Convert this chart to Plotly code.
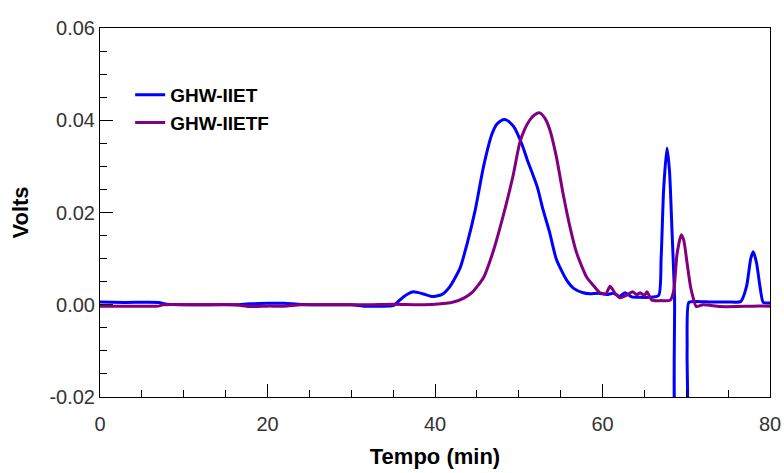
import plotly.graph_objects as go

# GHW-IIET (blue)
ghw_iiet_x = [0, 3, 7, 8, 12, 16, 18, 20, 22, 23.6,
              26, 30, 31.6, 33, 35.0, 35.5, 36.3, 37.4, 38.5, 39.6,
              40.8, 41.8, 43.0, 43.8, 44.8, 45.8, 46.8, 47.4, 48.1, 48.6,
              49.4, 50.4, 51.0, 52.2, 52.9, 53.7, 54.5, 55.7, 56.6, 57.7,
              58.5, 59.5, 60.5, 61.3, 62.0, 62.7, 63.5, 64.5, 65.5, 66.7,
              67.0, 67.3, 67.7, 68.0, 68.3, 68.6, 68.95, 69.9, 70.1, 70.3,
              71.0, 73.0, 75.0, 76.5, 77.2, 77.7, 78.0, 78.4, 78.8, 79.2,
              80.0]
ghw_iiet_y = [0.0006, 0.0005, 0.0005, 0.0001, 0.0000, 0.0000, 0.0002, 0.0003, 0.0003, 0.0001,
              0.0000, 0.0000, -0.0003, -0.0003, -0.0002, 0.0005, 0.0018, 0.0028, 0.0024, 0.0018,
              0.0022, 0.0040, 0.0080, 0.0130, 0.0205, 0.0300, 0.0370, 0.0392, 0.0401, 0.0400,
              0.0386, 0.0347, 0.0315, 0.0256, 0.0206, 0.0156, 0.0098, 0.0054, 0.0035, 0.0026,
              0.0024, 0.0025, 0.0022, 0.0025, 0.0018, 0.0026, 0.0017, 0.0016, 0.0016, 0.0020,
              0.0100, 0.0250, 0.0340, 0.0290, 0.0160, 0.0020, -0.0300, -0.0300, -0.0100, 0.0005,
              0.0007, 0.0006, 0.0006, 0.0007, 0.0040, 0.0100, 0.0115, 0.0090, 0.0040, 0.0005,
              0.0004]

# GHW-IIETF (purple)
ghw_iietf_x = [0, 3, 7, 7.5, 12, 16, 18, 20, 22, 24,
               28, 32, 35, 38, 40, 42.2, 43.5, 44.5, 45.8, 46.9,
               48.1, 49.3, 50.1, 50.7, 51.3, 51.9, 52.5, 53.1, 53.7, 54.5,
               55.3, 56.1, 56.9, 58.1, 59.0, 59.7, 60.4, 60.9, 61.5, 62.1,
               62.8, 63.6, 64.1, 64.5, 65.0, 65.3, 65.9, 67.0, 68.1, 68.5,
               68.9, 69.4, 69.7, 70.1, 70.5, 70.8, 71.2, 72.0, 74.0, 76.0,
               78.0, 80.0]
ghw_iietf_y = [-0.0003, -0.0003, -0.0003, 0.0000, 0.0000, 0.0000, -0.0004, -0.0003, -0.0003, 0.0000,
               0.0000, 0.0000, 0.0001, 0.0000, 0.0001, 0.0006, 0.0015, 0.0028, 0.0059, 0.0113,
               0.0190, 0.0278, 0.0350, 0.0380, 0.0400, 0.0412, 0.0416, 0.0405, 0.0380, 0.0320,
               0.0240, 0.0170, 0.0113, 0.0060, 0.0040, 0.0026, 0.0024, 0.0040, 0.0025, 0.0015,
               0.0020, 0.0028, 0.0022, 0.0026, 0.0020, 0.0028, 0.0010, 0.0009, 0.0010, 0.0030,
               0.0110, 0.0152, 0.0140, 0.0090, 0.0040, 0.0017, -0.0004, 0.0000, -0.0004, -0.0004,
               -0.0003, -0.0003]

x_ticks = [0, 20, 40, 60, 80]
y_ticks = [-0.02, 0.00, 0.02, 0.04, 0.06]
y_labels = ["-0.02", "0.00", "0.02", "0.04", "0.06"]

fig = go.Figure()
fig.add_trace(go.Scatter(x=ghw_iiet_x, y=ghw_iiet_y, mode="lines", name="<b>GHW-IIET</b>",
                         line=dict(color="#0000FF", width=3, shape="spline", smoothing=0.6)))
fig.add_trace(go.Scatter(x=ghw_iietf_x, y=ghw_iietf_y, mode="lines", name="<b>GHW-IIETF</b>",
                         line=dict(color="#800080", width=3, shape="spline", smoothing=0.6)))

tick_font = dict(family="Liberation Sans, Arial, sans-serif", size=20, color="#333333")
title_font = dict(family="Liberation Sans, Arial, sans-serif", size=22, color="#000000")

fig.update_layout(
    width=784, height=473,
    margin=dict(l=100, r=14, t=28, b=76),
    paper_bgcolor="white", plot_bgcolor="white",
    showlegend=True,
    legend=dict(x=0.045, y=0.87, xanchor="left", yanchor="top",
                bgcolor="rgba(0,0,0,0)", tracegroupgap=0,
                font=dict(family="Liberation Sans, Arial, sans-serif", size=19, color="#000000"),
                itemwidth=30),
    xaxis=dict(range=[0, 80], tickvals=x_ticks, ticktext=[str(v) for v in x_ticks],
               automargin=False,
               ticks="inside", ticklen=13, tickwidth=1, tickcolor="black",
               ticklabelstandoff=9,
               minor=dict(dtick=5, tick0=0, ticks="inside", ticklen=7, tickcolor="black", showgrid=False),
               showline=True, linecolor="black", linewidth=1, mirror=True,
               showgrid=False, zeroline=False, tickfont=tick_font,
               title=dict(text="<b>Tempo (min)</b>", font=title_font, standoff=14)),
    yaxis=dict(range=[-0.02, 0.06], tickvals=y_ticks, ticktext=y_labels,
               automargin=False,
               ticks="inside", ticklen=13, tickwidth=1, tickcolor="black",
               minor=dict(dtick=0.005, tick0=0, ticks="inside", ticklen=7, tickcolor="black", showgrid=False),
               showline=True, linecolor="black", linewidth=1, mirror=True,
               showgrid=False, zeroline=False, tickfont=tick_font,
               title=dict(text="<b>Volts</b>", font=title_font, standoff=14)),
)

fig.write_html("out.html")
